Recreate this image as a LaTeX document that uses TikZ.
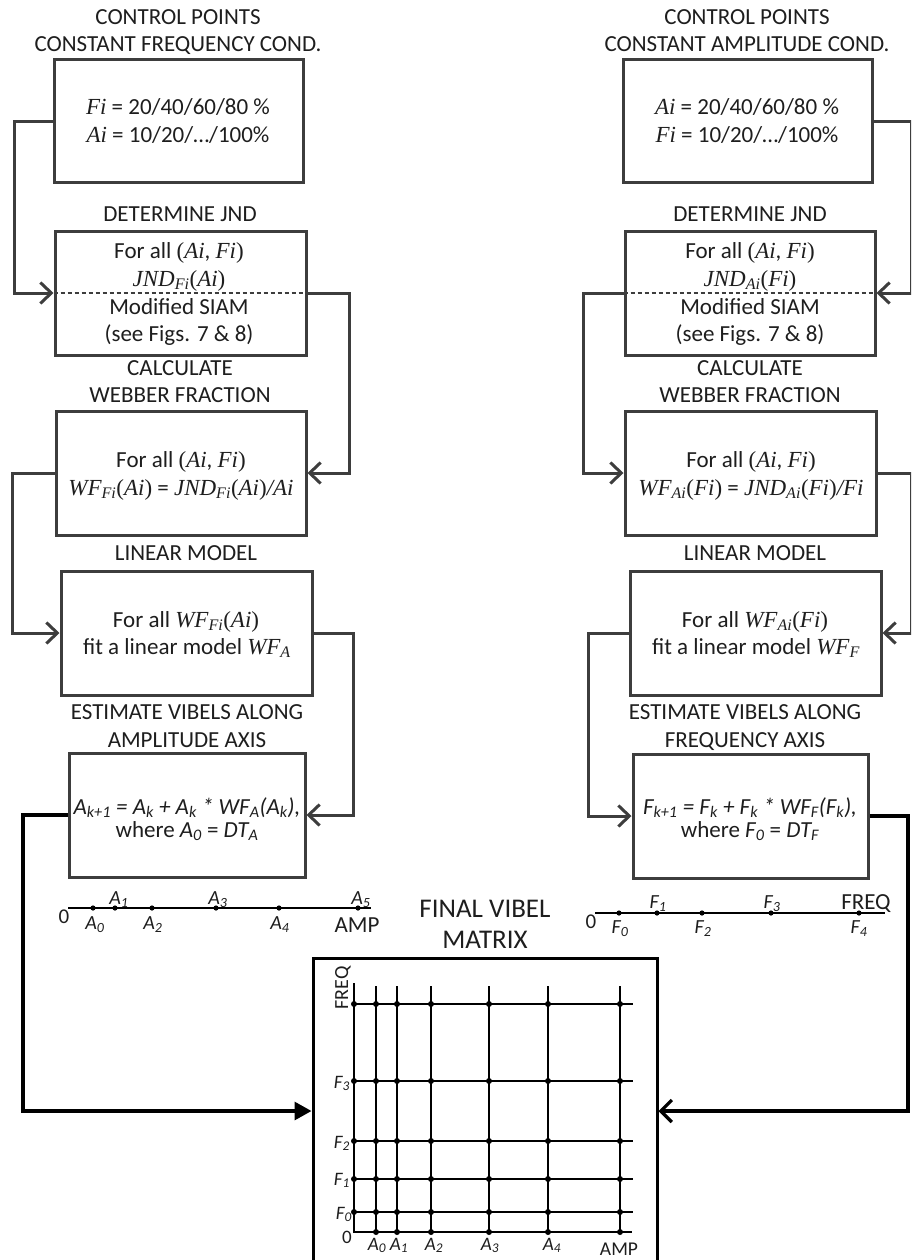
\documentclass[tikz,border=0pt]{standalone}
\usepackage{fontspec}
\setmainfont{Carlito}
\newfontfamily\tnrfont{Liberation Serif}
\usetikzlibrary{arrows.meta}
\definecolor{linegray}{HTML}{3D3D3D}
\definecolor{ink}{HTML}{1E1E1E}
% serif italic variable names, as in the formulas
\newcommand\tv[1]{{\tnrfont\itshape #1}}
\newcommand\tsb[1]{\textsubscript{#1}}
% upright serif brackets
\newcommand\lpar{{\tnrfont\upshape (}}
\newcommand\rpar{{\tnrfont\upshape )}}

\begin{document}
\begin{tikzpicture}[x=1pt,y=-1pt,
  box/.style={draw=linegray, line width=3pt, inner sep=0pt, minimum height=124pt},
  lbl/.style={anchor=base, inner sep=0pt, text=ink, font=\fontsize{23}{27}\selectfont},
  axlbl/.style={anchor=base, inner sep=0pt, text=ink, font=\fontsize{20}{24}\selectfont\itshape},
  mxlbl/.style={anchor=base, inner sep=0pt, text=ink, font=\fontsize{19}{23}\selectfont\itshape},
  link/.style={draw=linegray, line width=3pt, -{Straight Barb[length=11pt,width=21pt]}},
  blink/.style={draw=black, line width=3.2pt},
  divider/.style={draw=linegray, line width=1.5pt, dash pattern=on 4pt off 3pt},
  axisline/.style={draw=black, line width=2pt},
  gridline/.style={draw=black, line width=2.4pt},
  dot/.style={fill=black}]

\useasboundingbox (0,0) rectangle (911,1260);
\clip (0,0) rectangle (911,1260);
\fill[white] (0,0) rectangle (911,1260);

% ---------------- left column: constant frequency ----------------
\node[lbl] (h1La) at (178,25) {CONTROL POINTS};
\node[lbl] (h1Lb) at (178,52) {CONSTANT FREQUENCY COND.};
\node[box, minimum width=249pt, minimum height=123pt] (b1L) at (178.5,121.5) {};
\node[lbl] (t1La) at (178,115) {\tv{Fi} = 20/40/60/80 \%};
\node[lbl] (t1Lb) at (178,143) {\tv{Ai} = 10/20/…/100\%};

\node[lbl] (h2L) at (180,222) {DETERMINE JND};
\node[box, minimum width=251pt] (b2L) at (180.5,293) {};
\draw[divider] (b2L.west) -- (b2L.east);
\node[lbl] (t2La) at (179,258) {For all \lpar\tv{Ai}, \tv{Fi}\rpar};
\node[lbl] (t2Lb) at (179,286) {\tv{JND\tsb{Fi}}\lpar\tv{Ai}\rpar};
\node[lbl] (t2Lc) at (179,314) {Modified SIAM};
\node[lbl] (t2Ld) at (179,341) {(see Figs. 7 \& 8)};

\node[lbl] (h3La) at (180,375) {CALCULATE};
\node[lbl] (h3Lb) at (180,402) {WEBBER FRACTION};
\node[box, minimum width=250pt] (b3L) at (181,473) {};
\node[lbl] (t3La) at (181,467) {For all \lpar\tv{Ai}, \tv{Fi}\rpar};
\node[lbl] (t3Lb) at (181,495) {\tv{WF\tsb{Fi}}\lpar\tv{Ai}\rpar{} = \tv{JND\tsb{Fi}}\lpar\tv{Ai}\rpar\tv{/Ai}};

\node[lbl] (h4L) at (186,560) {LINEAR MODEL};
\node[box, minimum width=251pt] (b4L) at (186.5,633) {};
\node[lbl] (t4La) at (186,627) {For all \tv{WF\tsb{Fi}}\lpar\tv{Ai}\rpar};
\node[lbl] (t4Lb) at (187,654) {fit a linear model \tv{WF\tsb{A}}};

\node[lbl] (h5La) at (187,719) {ESTIMATE VIBELS ALONG};
\node[lbl] (h5Lb) at (187,747) {AMPLITUDE AXIS};
\node[box, minimum width=236pt] (b5L) at (187,815) {};
\node[lbl] (t5La) at (187,814) {\itshape A\tsb{k+1} = A\tsb{k} + A\tsb{k} * WF\tsb{A}(A\tsb{k}),};
\node[lbl] (t5Lb) at (187,837) {where \textit{A\tsb{0}} = \textit{DT\tsb{A}}};

\draw[link] (b1L.west) -- ++(-38.5,0) |- (b2L.west);
\draw[link] (b2L.east) -- ++(41.5,0) |- (b3L.east);
\draw[link] (b3L.west) -- ++(-42.5,0) |- (b4L.west);
\draw[link] (b4L.east) -- ++(39.5,0) |- (b5L.east);

% ---------------- right column: constant amplitude ----------------
\node[lbl] (h1Ra) at (747,25) {CONTROL POINTS};
\node[lbl] (h1Rb) at (747,52) {CONSTANT AMPLITUDE COND.};
\node[box, minimum width=249pt, minimum height=123pt] (b1R) at (747.5,121.5) {};
\node[lbl] (t1Ra) at (747,115) {\tv{Ai} = 20/40/60/80 \%};
\node[lbl] (t1Rb) at (747,143) {\tv{Fi} = 10/20/…/100\%};

\node[lbl] (h2R) at (750,222) {DETERMINE JND};
\node[box, minimum width=250pt] (b2R) at (750,293) {};
\draw[divider] (b2R.west) -- (b2R.east);
\node[lbl] (t2Ra) at (750,258) {For all \lpar\tv{Ai}, \tv{Fi}\rpar};
\node[lbl] (t2Rb) at (750,286) {\tv{JND\tsb{Ai}}\lpar\tv{Fi}\rpar};
\node[lbl] (t2Rc) at (750,314) {Modified SIAM};
\node[lbl] (t2Rd) at (750,341) {(see Figs. 7 \& 8)};

\node[lbl] (h3Ra) at (750,375) {CALCULATE};
\node[lbl] (h3Rb) at (750,402) {WEBBER FRACTION};
\node[box, minimum width=251pt] (b3R) at (750.5,473) {};
\node[lbl] (t3Ra) at (751,467) {For all \lpar\tv{Ai}, \tv{Fi}\rpar};
\node[lbl] (t3Rb) at (751,495) {\tv{WF\tsb{Ai}}\lpar\tv{Fi}\rpar{} = \tv{JND\tsb{Ai}}\lpar\tv{Fi}\rpar\tv{/Fi}};

\node[lbl] (h4R) at (755,560) {LINEAR MODEL};
\node[box, minimum width=251pt] (b4R) at (755.5,633) {};
\node[lbl] (t4Ra) at (755,627) {For all \tv{WF\tsb{Ai}}\lpar\tv{Fi}\rpar};
\node[lbl] (t4Rb) at (756,654) {fit a linear model \tv{WF\tsb{F}}};

\node[lbl] (h5Ra) at (745,719) {ESTIMATE VIBELS ALONG};
\node[lbl] (h5Rb) at (745,747) {FREQUENCY AXIS};
\node[box, minimum width=235pt] (b5R) at (750.5,816) {};
\node[lbl] (t5Ra) at (750,814) {\itshape F\tsb{k+1} = F\tsb{k} + F\tsb{k} * WF\tsb{F}(F\tsb{k}),};
\node[lbl] (t5Rb) at (750,837) {where \textit{F\tsb{0}} = \textit{DT\tsb{F}}};

\draw[link] (b1R.east) -- ++(37.5,0) |- (b2R.east);
\draw[link] (b2R.west) -- ++(-40.5,0) |- (b3R.west);
\draw[link] (b3R.east) -- ++(33.5,0) |- (b4R.east);
\draw[link] (b4R.west) -- ++(-40.5,0) |- (b5R.west);

% ---------------- amplitude axis ----------------
\draw[axisline] (68,908) -- (371,908);
\foreach \x in {93,115,152,216,279,358} \fill[dot] (\x,908) circle[radius=2.6pt];
\node[anchor=base, inner sep=0pt, text=ink, font=\fontsize{21}{24}\selectfont] (a0z) at (64,923) {0};
\node[axlbl] (a1) at (119,904) {A\tsb{1}};
\node[axlbl] (a3) at (218,904) {A\tsb{3}};
\node[axlbl] (a5) at (361,904) {A\tsb{5}};
\node[axlbl] (a0) at (95,929) {A\tsb{0}};
\node[axlbl] (a2) at (153,929) {A\tsb{2}};
\node[axlbl] (a4) at (280,929) {A\tsb{4}};
\node[lbl] (aamp) at (357,932) {AMP};

% ---------------- frequency axis ----------------
\draw[axisline] (595,913) -- (885,913);
\foreach \x in {619,657,702,771,859} \fill[dot] (\x,913) circle[radius=2.6pt];
\node[anchor=base, inner sep=0pt, text=ink, font=\fontsize{21}{24}\selectfont] (f0z) at (591,928) {0};
\node[axlbl] (f1) at (658,908) {F\tsb{1}};
\node[axlbl] (f3) at (772,908) {F\tsb{3}};
\node[lbl] (ffreq) at (866,909) {FREQ};
\node[axlbl] (f0) at (620,933) {F\tsb{0}};
\node[axlbl] (f2) at (703,933) {F\tsb{2}};
\node[axlbl] (f4) at (859,933) {F\tsb{4}};

% ---------------- final vibel matrix ----------------
\node[anchor=base, inner sep=0pt, text=ink, font=\fontsize{27}{31}\selectfont] (mt1) at (485,917) {FINAL VIBEL};
\node[anchor=base, inner sep=0pt, text=ink, font=\fontsize{27}{31}\selectfont] (mt2) at (485,948) {MATRIX};
\node[draw=black, line width=3pt, inner sep=0pt, minimum width=344pt, minimum height=306pt] (mat) at (485,1111) {};

\draw[blink, -{Triangle[length=17pt,width=18pt]}] (b5L.west) -- ++(-44.5,0) |- (mat.west);
\draw[blink, -{Straight Barb[length=11pt,width=22pt]}] (b5R.east) -- ++(38.5,0) |- (mat.east);

% grid of vibels
\draw[gridline] (354,983) -- (354,1232) -- (632,1232);
\foreach \y in {1004,1081,1141,1179,1212} \draw[gridline] (354,\y) -- (633,\y);
\foreach \x in {376,397,431,489,548,620} \draw[gridline] (\x,986) -- (\x,1232);
\foreach \x in {354,376,397,431,489,548,620}
  \foreach \y in {1004,1081,1141,1179,1212}
    \fill[dot] (\x,\y) circle[radius=3pt];
\foreach \x in {376,397,431,489,548,620} \fill[dot] (\x,1232) circle[radius=3pt];

\node[rotate=90, inner sep=0pt, text=ink, font=\fontsize{20}{24}\selectfont] (mfreq) at (343,988) {FREQ};
\node[mxlbl, anchor=base east] (mf3) at (350,1088) {F\tsb{3}};
\node[mxlbl, anchor=base east] (mf2) at (350,1148) {F\tsb{2}};
\node[mxlbl, anchor=base east] (mf1) at (350,1185) {F\tsb{1}};
\node[mxlbl, anchor=base east] (mf0) at (352,1219) {F\tsb{0}};
\node[anchor=base east, inner sep=0pt, text=ink, font=\fontsize{19}{23}\selectfont] (mz) at (352,1243) {0};
\node[mxlbl] (ma0) at (377,1250) {A\tsb{0}};
\node[mxlbl] (ma1) at (399,1250) {A\tsb{1}};
\node[mxlbl] (ma2) at (434,1250) {A\tsb{2}};
\node[mxlbl] (ma3) at (490,1250) {A\tsb{3}};
\node[mxlbl] (ma4) at (552,1250) {A\tsb{4}};
\node[anchor=base, inner sep=0pt, text=ink, font=\fontsize{19.5}{23}\selectfont] (mamp) at (619,1255) {AMP};

\end{tikzpicture}
\end{document}
